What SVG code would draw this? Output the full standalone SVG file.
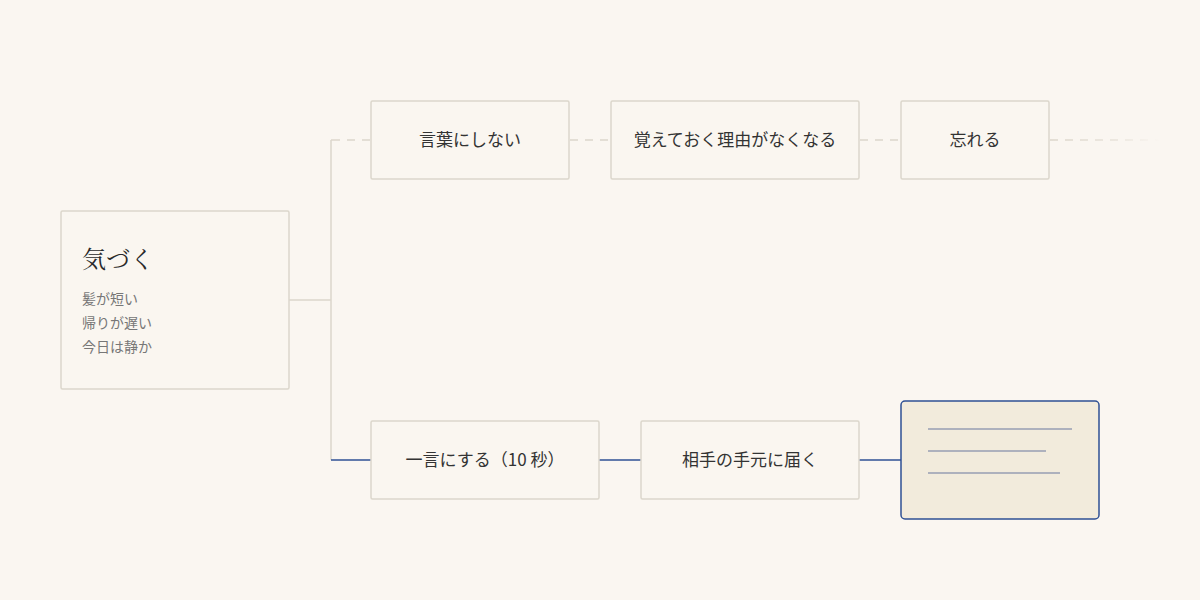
<svg xmlns="http://www.w3.org/2000/svg" width="1200" height="600" viewBox="0 0 1200 600">
<defs>
<style>
.box{fill:#faf6f0;stroke:#dcd6cb;stroke-width:1.5}
.lbl{font-family:"Noto Sans CJK JP","Noto Sans",sans-serif;font-size:17px;fill:#333;text-anchor:middle}
.sub{font-family:"Noto Sans CJK JP","Noto Sans",sans-serif;font-size:14px;fill:#777}
.ttl{font-family:"Noto Serif CJK JP","Noto Sans CJK JP",serif;font-size:24px;fill:#2a2a2a}
.gl{stroke:#dcd6cb;stroke-width:1.5;fill:none}
.dash{stroke:#dcd6cb;stroke-width:1.5;fill:none;stroke-dasharray:8 7}
.bl{stroke:#2f5094;stroke-width:1.5;fill:none}
.ln{stroke:#aeb1bd;stroke-width:2}
</style>
<linearGradient id="fade" gradientUnits="userSpaceOnUse" x1="1050" y1="0" x2="1160" y2="0">
<stop offset="0" stop-color="#dcd6cb" stop-opacity="1"/>
<stop offset="0.6" stop-color="#dcd6cb" stop-opacity="0.6"/>
<stop offset="1" stop-color="#dcd6cb" stop-opacity="0"/>
</linearGradient>
</defs>
<rect width="1200" height="600" fill="#faf6f1"/>
<g id="connectors">
<path class="gl" d="M289 300H331M331 140V460"/>
<path class="gl" d="M331 140H340"/>
<path class="dash" d="M347 140H370"/>
<path class="dash" d="M570 140H611"/>
<path class="dash" d="M860 140H901"/>
<path d="M1050 140H1160" stroke="url(#fade)" stroke-width="1.5" stroke-dasharray="8 7" fill="none"/>
<path class="bl" d="M331 460H371"/>
<path class="bl" d="M599 460H641"/>
<path class="bl" d="M859 460H901"/>
</g>
<g id="notice">
<rect class="box" x="61" y="211" width="228" height="178" rx="1.5"/>
<text class="ttl" x="82" y="268">気づく</text>
<text class="sub" x="82" y="304">髪が短い</text>
<text class="sub" x="82" y="328">帰りが遅い</text>
<text class="sub" x="82" y="352">今日は静か</text>
</g>
<g id="n1">
<rect class="box" x="371" y="101" width="198" height="78" rx="1.5"/>
<text class="lbl" x="470" y="146">言葉にしない</text>
</g>
<g id="n2">
<rect class="box" x="611" y="101" width="248" height="78" rx="1.5"/>
<text class="lbl" x="735" y="146">覚えておく理由がなくなる</text>
</g>
<g id="n3">
<rect class="box" x="901" y="101" width="148" height="78" rx="1.5"/>
<text class="lbl" x="975" y="146">忘れる</text>
</g>
<g id="n4">
<rect class="box" x="371" y="421" width="228" height="78" rx="1.5"/>
<text class="lbl" x="485" y="466">一言にする（10 秒）</text>
</g>
<g id="n5">
<rect class="box" x="641" y="421" width="218" height="78" rx="1.5"/>
<text class="lbl" x="750" y="466">相手の手元に届く</text>
</g>
<g id="message">
<rect x="901" y="401" width="198" height="118" rx="4" fill="#f2ebdc" stroke="#2f5094" stroke-width="1.5"/>
<line class="ln" x1="928" y1="429" x2="1072" y2="429"/>
<line class="ln" x1="928" y1="451" x2="1046" y2="451"/>
<line class="ln" x1="928" y1="473" x2="1060" y2="473"/>
</g>
</svg>
